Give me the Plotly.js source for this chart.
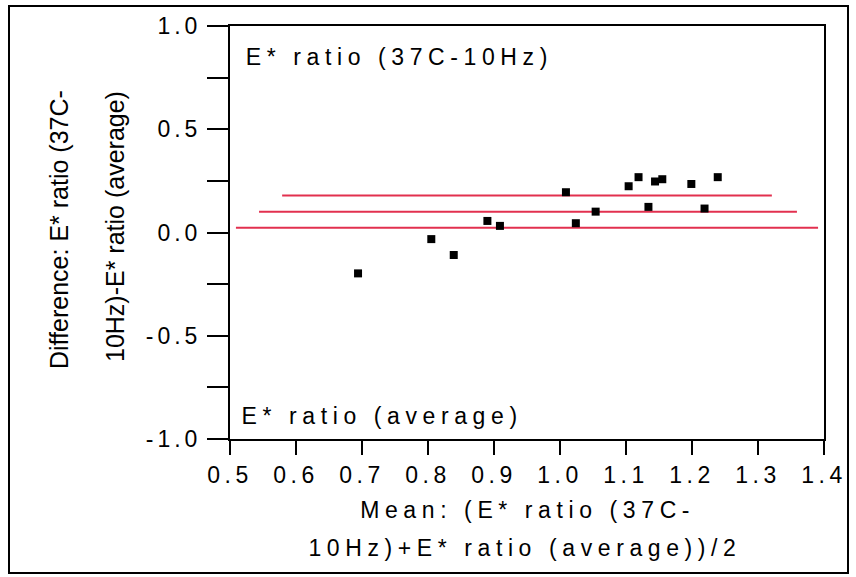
<!DOCTYPE html>
<html><head><meta charset="utf-8">
<script src="https://cdn.plot.ly/plotly-3.0.1.min.js"></script>
<style>
html,body{margin:0;padding:0;background:#fff;}
.xtick text {letter-spacing:4.5px;}
.ytick text {letter-spacing:4px;}
g.annotation text {letter-spacing:5.6px;}
g.annotation[data-index="2"] text, g.annotation[data-index="3"] text {letter-spacing:0px;}
</style>
</head><body>
<div id="chart" style="width:856px;height:577px;"></div>
<script>
// Data (Bland-Altman style plot)
const meanVals = [0.694, 0.805, 0.839, 0.890, 0.909, 1.009, 1.024, 1.054, 1.104, 1.119, 1.134, 1.144, 1.155, 1.199, 1.219, 1.239];
const diffVals = [-0.198, -0.032, -0.109, 0.056, 0.032, 0.195, 0.045, 0.101, 0.224, 0.268, 0.124, 0.247, 0.258, 0.235, 0.116, 0.268];
// Horizontal reference lines: level, start, end
const refLevels = [0.179, 0.101, 0.023];
const refStarts = [0.579, 0.544, 0.509];
const refEnds   = [1.321, 1.359, 1.391];
const xTickVals = [0.5, 0.6, 0.7, 0.8, 0.9, 1.0, 1.1, 1.2, 1.3, 1.4];
const xTickText = ["0.5","0.6","0.7","0.8","0.9","1.0","1.1","1.2","1.3","1.4"];
const yTickVals = [-1.0, -0.5, 0.0, 0.5, 1.0];
const yTickText = ["-1.0","-0.5","0.0","0.5","1.0"];
const yMinorVals = [-0.75, -0.25, 0.25, 0.75];
const topLabel = "E* ratio (37C-10Hz)";
const bottomLabel = "E* ratio (average)";
const yTitleLines = ["Difference: E* ratio (37C-", "10Hz)-E* ratio (average)"];
const xTitleLines = ["Mean: (E* ratio (37C-", "10Hz)+E* ratio (average))/2"];

const traces = [];
refLevels.forEach((lv, i) => {
  traces.push({x:[refStarts[i], refEnds[i]], y:[lv, lv], mode:'lines', type:'scatter',
    line:{color:'#e2304f', width:2}, hoverinfo:'skip', showlegend:false});
});
traces.push({x:meanVals, y:diffVals, mode:'markers', type:'scatter',
  marker:{symbol:'square', size:8, color:'#000'}, showlegend:false});

const W=856, H=577, ml=230, mr=32, mt=26, mb=138;
const pw=W-ml-mr, ph=H-mt-mb;
const px = v => (v-ml)/pw;         // pixel -> paper x
const py = v => (H-mb-v)/ph;       // pixel -> paper y

const fam = 'Liberation Sans, Arial, sans-serif';
const f = s => ({family:fam, color:'#000', size:s});
const layout = {
  width:W, height:H,
  margin:{l:ml, r:mr, t:mt, b:mb},
  paper_bgcolor:'#fff', plot_bgcolor:'#fff',
  showlegend:false,
  font:f(23),
  xaxis:{range:[0.5,1.4], tickvals:xTickVals, ticktext:xTickText, ticks:'outside', ticklen:14, tickwidth:2, tickcolor:'#000',
    showline:true, mirror:true, linewidth:2, linecolor:'#000', showgrid:false, zeroline:false,
    tickfont:f(23)},
  yaxis:{range:[-1,1], tickvals:yTickVals, ticktext:yTickText, ticks:'outside', ticklen:21, tickwidth:2, tickcolor:'#000',
    ticklabelstandoff:1,
    minor:{tickvals:yMinorVals, ticks:'outside', ticklen:21, tickwidth:2, tickcolor:'#000', showgrid:false},
    showline:true, mirror:true, linewidth:2, linecolor:'#000', showgrid:false, zeroline:false,
    tickfont:f(23)},
  annotations:[
    {text:topLabel, xref:'paper', yref:'paper', x:px(399), y:py(57), xanchor:'center', yanchor:'middle', showarrow:false, font:f(23)},
    {text:bottomLabel, xref:'paper', yref:'paper', x:px(382), y:py(416), xanchor:'center', yanchor:'middle', showarrow:false, font:f(23)},
    {text:yTitleLines[0], xref:'paper', yref:'paper', x:px(59), y:py(230), xanchor:'center', yanchor:'middle', textangle:-90, showarrow:false, font:f(25)},
    {text:yTitleLines[1], xref:'paper', yref:'paper', x:px(115), y:py(227), xanchor:'center', yanchor:'middle', textangle:-90, showarrow:false, font:f(25)},
    {text:xTitleLines[0], xref:'paper', yref:'paper', x:px(527), y:py(510), xanchor:'center', yanchor:'middle', showarrow:false, font:f(23)},
    {text:xTitleLines[1], xref:'paper', yref:'paper', x:px(525), y:py(548), xanchor:'center', yanchor:'middle', showarrow:false, font:f(23)}
  ],
  shapes:[
    {type:'rect', xref:'paper', yref:'paper', x0:px(9), x1:px(848), y0:py(573), y1:py(6), line:{color:'#000', width:2}, layer:'below'}
  ]
};
Plotly.newPlot('chart', traces, layout, {displayModeBar:false, staticPlot:true});
</script>
</body></html>
